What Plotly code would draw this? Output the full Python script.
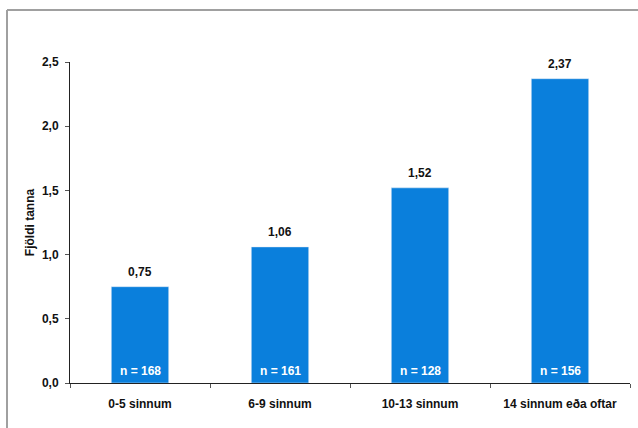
import plotly.graph_objects as go

categories = ["0-5 sinnum", "6-9 sinnum", "10-13 sinnum", "14 sinnum eða oftar"]
values = [0.75, 1.06, 1.52, 2.37]
n_counts = [168, 161, 128, 156]
y_ticks = [0, 0.5, 1.0, 1.5, 2.0, 2.5]
y_title = "Fjöldi tanna"

FONT = "Arial, Liberation Sans, sans-serif"
BAR = "#0A7FDC"
TXT = "#111111"

def f(color=TXT):
    return dict(family=FONT, size=12, color=color, weight="bold")

fig = go.Figure()
fig.add_trace(go.Bar(x=categories, y=values, marker_color=BAR, width=0.41,
                     hoverinfo="skip"))

ann = []
for c, v, n in zip(categories, values, n_counts):
    ann.append(dict(x=c, y=v, xref="x", yref="y", text=f"{v:.2f}".replace(".", ","),
                    showarrow=False, yanchor="bottom", yshift=6, font=f()))
    ann.append(dict(x=c, y=0, xref="x", yref="y", text=f"n = {n}",
                    showarrow=False, yanchor="middle", yshift=12, font=f("white")))

W, H = 638, 428
l, r, t, b = 70, 8, 62, 45
pw, ph = W - l - r, H - t - b
def px(x): return (x - l) / pw
def py(y): return (H - b - y) / ph

shapes = [
    dict(type="line", xref="paper", yref="paper", x0=px(7), x1=px(7), y0=py(10), y1=py(440),
         line=dict(color="#A0A0A0", width=2)),
    dict(type="line", xref="paper", yref="paper", x0=px(7), x1=px(650), y0=py(10), y1=py(10),
         line=dict(color="#A0A0A0", width=2)),
]

fig.update_layout(
    width=W, height=H, margin=dict(l=l, r=r, t=t, b=b),
    paper_bgcolor="white", plot_bgcolor="white",
    separators=", ",
    showlegend=False,
    annotations=ann, shapes=shapes,
    font=f(),
)
fig.update_xaxes(type="category", showline=True, linecolor="#222222", linewidth=1,
                 ticks="outside", tickson="boundaries", ticklen=4, tickcolor="#555555",
                 ticklabelstandoff=10, tickfont=f(), showgrid=False)
fig.update_yaxes(range=[0, 2.5], tickvals=y_ticks, tickformat=".1f",
                 showline=True, linecolor="#222222", linewidth=1,
                 ticks="outside", ticklen=4, tickcolor="#555555",
                 ticklabelstandoff=4, tickfont=f(), showgrid=False, zeroline=False,
                 title=dict(text=y_title, standoff=4, font=f()))

fig.write_html("out.html")
